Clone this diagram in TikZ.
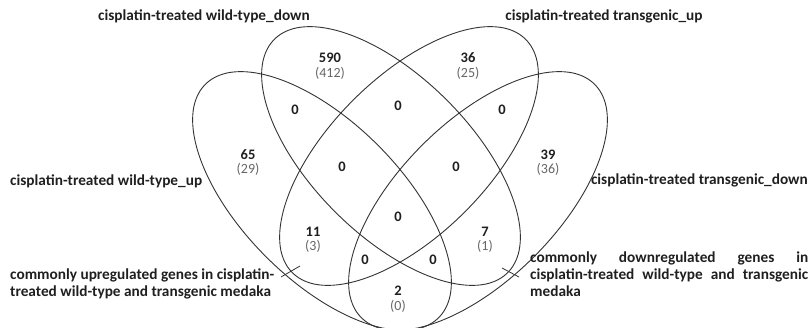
\documentclass[tikz,border=0pt]{standalone}
\usepackage{fontspec}
\setmainfont{Carlito}
\begin{document}
\begin{tikzpicture}[x=1pt,y=-1pt,
  venn/.style={draw=black!80, line width=0.9pt},
  setlabel/.style={font=\bfseries\fontsize{15.3}{17}\selectfont, text=black!88, inner sep=0pt},
  cnt/.style={font=\bfseries\fontsize{14.5}{16}\selectfont, text=black!88, inner sep=0pt},
  sub/.style={font=\fontsize{14}{16}\selectfont, text=black!60, inner sep=0pt},
  pointer/.style={draw=black!80, line width=0.8pt}]
\useasboundingbox (0,0) rectangle (810,327);
% ellipses
\begin{scope}[shift={(322,201)}, rotate=-45]
  \draw[venn] (0,0) ellipse (165 and 79);
\end{scope}
\begin{scope}[shift={(478,201)}, rotate=45]
  \draw[venn] (0,0) ellipse (165 and 79);
\end{scope}
\begin{scope}[shift={(391,156)}, rotate=-45]
  \draw[venn] (0,0) ellipse (165 and 79);
\end{scope}
\begin{scope}[shift={(409,156)}, rotate=45]
  \draw[venn] (0,0) ellipse (165 and 79);
\end{scope}
% set labels
\node[setlabel] (wtdown) at (204,16) {cisplatin-treated wild-type\_down};
\node[setlabel] (tgup) at (604,16) {cisplatin-treated transgenic\_up};
\node[setlabel, anchor=west] (wtup) at (10,181) {cisplatin-treated wild-type\_up};
\node[setlabel, anchor=east] (tgdown) at (808,180) {cisplatin-treated transgenic\_down};
\node[setlabel, anchor=base west, align=left] (comup) at (10,296)
  {commonly upregulated genes in cisplatin-\\treated wild-type and transgenic medaka};
\node[setlabel, anchor=base west, align=left] (comdown) at (530,296)
  {\makebox[278pt][s]{commonly downregulated genes in}\\\makebox[278pt][s]{cisplatin-treated wild-type and transgenic}\\medaka};
% pointers
\coordinate (pu1) at (281,277);
\coordinate (pu2) at (300,266);
\coordinate (pd1) at (502,268);
\coordinate (pd2) at (519,277);
\draw[pointer] (pu1) -- (pu2);
\draw[pointer] (pd1) -- (pd2);
% counts
\node[cnt] (n590) at (330,58) {590};
\node[sub] (s590) at (330,73) {(412)};
\node[cnt] (n36) at (468,58) {36};
\node[sub] (s36) at (468,73) {(25)};
\node[cnt] (n65) at (248,155) {65};
\node[sub] (s65) at (248,169) {(29)};
\node[cnt] (n39) at (548,155) {39};
\node[sub] (s39) at (548,169) {(36)};
\node[cnt] (n11) at (313,232) {11};
\node[sub] (s11) at (313,246) {(3)};
\node[cnt] (n7) at (485,232) {7};
\node[sub] (s7) at (485,246) {(1)};
\node[cnt] (n2) at (398,291) {2};
\node[sub] (s2) at (398,306) {(0)};
\node[cnt] (z1) at (295,110) {0};
\node[cnt] (z2) at (398,106) {0};
\node[cnt] (z3) at (502,110) {0};
\node[cnt] (z4) at (342,167) {0};
\node[cnt] (z5) at (456,167) {0};
\node[cnt] (z6) at (398,217) {0};
\node[cnt] (z7) at (365,260) {0};
\node[cnt] (z8) at (433,260) {0};
\end{tikzpicture}
\end{document}
